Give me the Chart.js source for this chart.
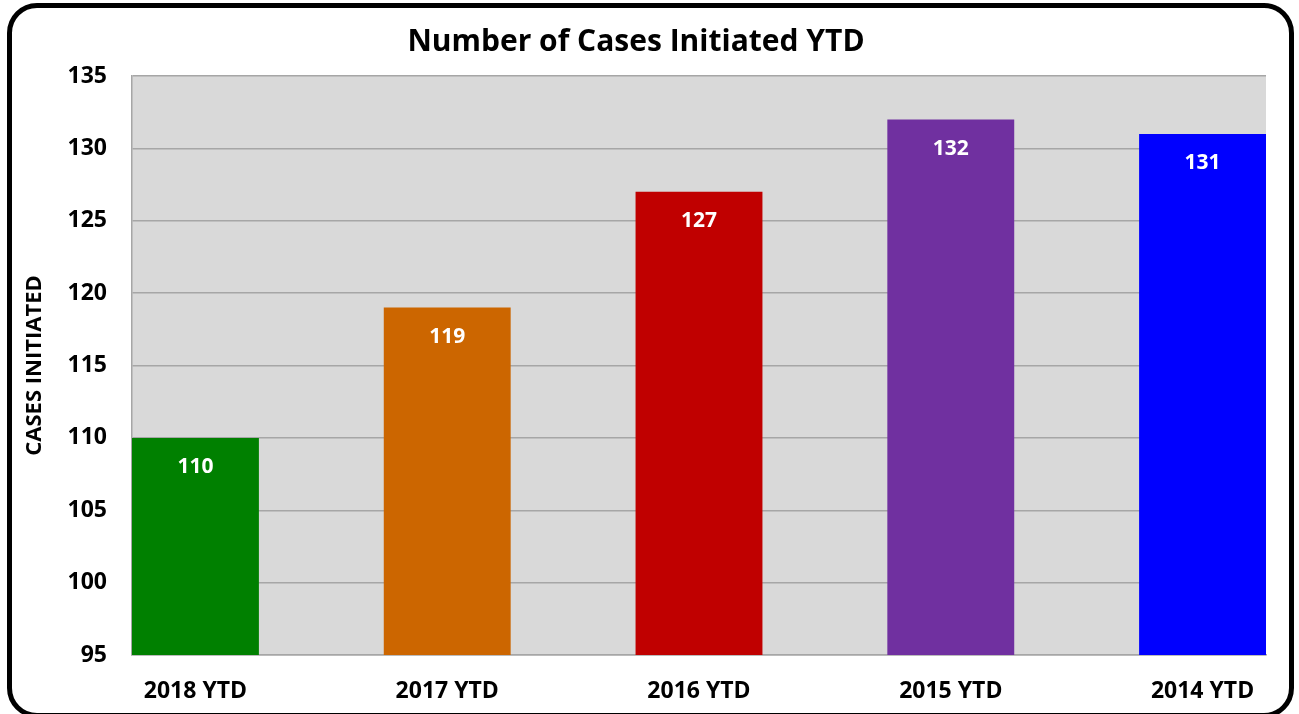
<!DOCTYPE html>
<html>
<head>
<meta charset="utf-8">
<title>Number of Cases Initiated YTD</title>
<script src="https://cdn.jsdelivr.net/npm/chart.js@4.4.0/dist/chart.umd.min.js"></script>
<style>
  html, body { margin: 0; padding: 0; background: #fff; overflow: hidden; }
  #wrap { position: relative; width: 1299px; height: 714px; overflow: hidden; }
  #frame {
    position: absolute; left: 7px; top: 3px;
    width: 1277px; height: 705px;
    border: 5px solid #000; border-radius: 30px;
    pointer-events: none;
  }
</style>
</head>
<body>
<div id="wrap">
  <canvas id="casesChart" width="1299" height="714"></canvas>
  <div id="frame"></div>
</div>
<script>
// ── Chart data ───────────────────────────────────────────────
const categories     = ['2018 YTD', '2017 YTD', '2016 YTD', '2015 YTD', '2014 YTD'];
const casesInitiated = [110, 119, 127, 132, 131];
const barColors      = ['#008000', '#CC6600', '#C00000', '#7030A0', '#0000FF'];
const yTicks         = [95, 100, 105, 110, 115, 120, 125, 130, 135];

const FONT = "'Open Sans', 'DejaVu Sans', sans-serif";

// ── Grey plot-area background ────────────────────────────────
const plotBackground = {
  id: 'plotBackground',
  beforeDraw(chart) {
    const { ctx, chartArea: a } = chart;
    ctx.save();
    ctx.fillStyle = '#d9d9d9';
    ctx.fillRect(a.left, a.top, a.right - a.left, a.bottom - a.top);
    ctx.restore();
  }
};

// ── White value labels inside bar tops ───────────────────────
const barValueLabels = {
  id: 'barValueLabels',
  afterDatasetsDraw(chart) {
    const { ctx } = chart;
    const meta = chart.getDatasetMeta(0);
    ctx.save();
    ctx.fillStyle = '#ffffff';
    ctx.font = `bold 21px ${FONT}`;
    ctx.textAlign = 'center';
    ctx.textBaseline = 'middle';
    meta.data.forEach((bar, i) => {
      ctx.fillText(String(casesInitiated[i]), bar.x, bar.y + 29.5);
    });
    ctx.restore();
  }
};

const ctx = document.getElementById('casesChart').getContext('2d');

new Chart(ctx, {
  type: 'bar',
  data: {
    datasets: [{
      label: 'Cases Initiated',
      data: casesInitiated.map((v, i) => ({ x: i, y: v })),
      backgroundColor: barColors,
      borderWidth: 0,
      barPercentage: 0.504,
      categoryPercentage: 1
    }]
  },
  options: {
    responsive: false,
    animation: false,
    layout: { padding: { left: 6, right: 33, top: 0, bottom: 0 } },
    plugins: {
      legend: { display: false },
      tooltip: { enabled: false },
      title: {
        display: true,
        text: 'Number of Cases Initiated YTD',
        color: '#000',
        font: { family: FONT, size: 30, weight: 'bold' },
        padding: { top: 24, bottom: 16 }
      }
    },
    scales: {
      x: {
        type: 'linear',
        offset: false,
        min: -0.252,
        max: 4.252,
        afterBuildTicks: scale => {
          scale.ticks = categories.map((c, i) => ({ value: i }));
        },
        afterFit: scale => { scale.height = 59; },
        ticks: {
          autoSkip: false,
          maxRotation: 0,
          padding: 23,
          color: '#000',
          font: { family: FONT, size: 23, weight: 'bold' },
          callback: val => categories[Math.round(val)]
        },
        grid: { display: false, drawTicks: false },
        border: { display: true, color: '#a6a6a6', width: 1.5 }
      },
      y: {
        min: 95,
        max: 135,
        afterBuildTicks: scale => {
          scale.ticks = yTicks.map(v => ({ value: v }));
        },
        afterFit: scale => { scale.width = 126; },
        ticks: {
          padding: 25,
          color: '#000',
          font: { family: FONT, size: 23, weight: 'bold' }
        },
        grid: { color: '#a6a6a6', lineWidth: 1.5, drawTicks: false },
        border: { display: true, color: '#a6a6a6', width: 1.5 },
        title: {
          display: true,
          text: 'CASES INITIATED',
          color: '#000',
          font: { family: FONT, size: 22, weight: 'bold' },
          padding: { top: 16, bottom: 0 }
        }
      }
    }
  },
  plugins: [plotBackground, barValueLabels]
});
</script>
</body>
</html>
